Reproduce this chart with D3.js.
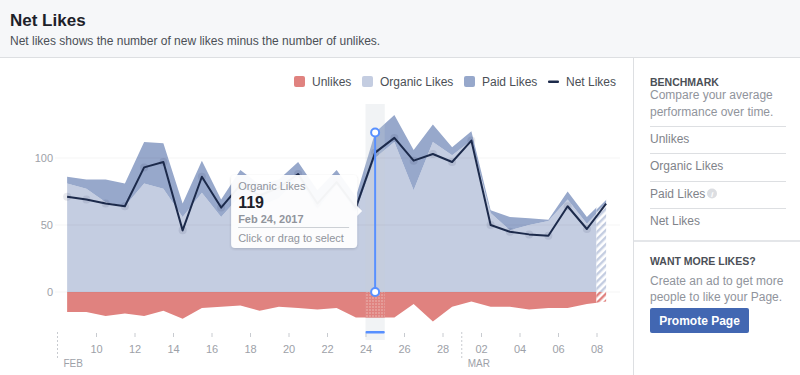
<!DOCTYPE html>
<html>
<head>
<meta charset="utf-8">
<script src="https://cdn.jsdelivr.net/npm/d3@7"></script>
<style>
  html, body { margin: 0; padding: 0; background: #fff; }
  svg { display: block; font-family: "Liberation Sans", Arial, Helvetica, sans-serif; }
</style>
</head>
<body>
<svg id="chart" width="800" height="375"></svg>
<script>
// ---------------- DATA ----------------
const dates = ["2017-02-08","2017-02-09","2017-02-10","2017-02-11","2017-02-12","2017-02-13","2017-02-14",
  "2017-02-15","2017-02-16","2017-02-17","2017-02-18","2017-02-19","2017-02-20","2017-02-21","2017-02-22",
  "2017-02-23","2017-02-24","2017-02-25","2017-02-26","2017-02-27","2017-02-28","2017-03-01","2017-03-02",
  "2017-03-03","2017-03-04","2017-03-05","2017-03-06","2017-03-07","2017-03-08"];
const organicLikes = [81,77,67,64,81,77,56,74,56,72,64,70,85,62,80,60,100,112,76,112,102,113,59,46,50,53,69,51,66];
const paidLikes    = [5,7,17,17,31,34,10,24,13,19,16,14,12,14,11,11,19,20,30,13,6,7,2,10,5,1,6,5,4];
const unlikes      = [15,15,18,16,18,14,20,12,11,10,14,11,12,13,12,19,19,19,9,22,11,7,11,11,13,12,12,9,7];
const netLikes     = [71,69,66,64,93,97,46,86,63,80,72,78,88,66,82,63,104,115,98,103,97,113,50,45,43,42,64,47,66];
const yTicks = [0, 50, 100];
const xTickDates = ["2017-02-10","2017-02-12","2017-02-14","2017-02-16","2017-02-18","2017-02-20","2017-02-22",
  "2017-02-24","2017-02-26","2017-02-28","2017-03-02","2017-03-04","2017-03-06","2017-03-08"];
const monthMarks = [{date: "2017-02-08", label: "FEB"}, {date: "2017-03-01", label: "MAR"}];
const legendItems = ["Unlikes", "Organic Likes", "Paid Likes", "Net Likes"];
const benchmarkItems = ["Unlikes", "Organic Likes", "Paid Likes", "Net Likes"];
const selectedDate = "2017-02-24";
const selectedValue = 119;
const partialStart = "2017-03-08";
const domainDates = ["2017-02-08", "2017-03-09"];

// ---------------- SETUP ----------------
const parse = d3.timeParse("%Y-%m-%d");
const colors = { unlikes: "#e0827f", organic: "#c4cde1", paid: "#97a8cb", net: "#1c2a4b", blue: "#5890ff" };
const data = dates.map((d, i) => ({
  date: d3.timeHour.offset(parse(d), 12),
  organic: organicLikes[i], paid: paidLikes[i], unlikes: unlikes[i], net: netLikes[i]
}));

const svg = d3.select("#chart");
const x = d3.scaleTime().domain(domainDates.map(parse)).range([57.5, 615.75]);
const y = d3.scaleLinear().domain([0, 100]).range([292, 158]);

const defs = svg.append("defs");
function hatch(id, color) {
  const p = defs.append("pattern").attr("id", id).attr("patternUnits", "userSpaceOnUse")
    .attr("width", 5).attr("height", 5).attr("patternTransform", "rotate(-45)");
  p.append("rect").attr("width", 5).attr("height", 5).attr("fill", "#fff");
  p.append("rect").attr("width", 5).attr("height", 2.4).attr("fill", color);
}
hatch("hOrg", colors.organic); hatch("hPaid", colors.paid); hatch("hUn", colors.unlikes);
const dots = defs.append("pattern").attr("id", "dots").attr("patternUnits", "userSpaceOnUse").attr("width", 3).attr("height", 3);
dots.append("rect").attr("width", 3).attr("height", 3).attr("fill", colors.unlikes);
dots.append("circle").attr("cx", 1).attr("cy", 1).attr("r", 0.7).attr("fill", "#f0c9c4");

const xPartial = x(parse(partialStart));
defs.append("clipPath").attr("id", "clipSolid").append("rect")
  .attr("x", 0).attr("y", 0).attr("width", xPartial).attr("height", 375);
defs.append("clipPath").attr("id", "clipHatch").append("rect")
  .attr("x", xPartial).attr("y", 0).attr("width", 100).attr("height", 375);
const selStart = parse(selectedDate), selEnd = d3.timeDay.offset(selStart, 1);
defs.append("clipPath").attr("id", "clipSel").append("rect")
  .attr("x", x(selStart)).attr("y", 0).attr("width", x(selEnd) - x(selStart)).attr("height", 375);
const shadow = defs.append("filter").attr("id", "shadow").attr("x", "-20%").attr("y", "-20%").attr("width", "140%").attr("height", "150%");
shadow.append("feDropShadow").attr("dx", 0).attr("dy", 1).attr("stdDeviation", 1.5).attr("flood-color", "#000").attr("flood-opacity", 0.16);

// ---------------- HEADER ----------------
svg.append("rect").attr("x", 0).attr("y", 0).attr("width", 800).attr("height", 58).attr("fill", "#f6f7f9");
svg.append("rect").attr("x", 0).attr("y", 57).attr("width", 800).attr("height", 1).attr("fill", "#dddfe2");
svg.append("text").attr("x", 10).attr("y", 26).attr("font-size", 17).attr("font-weight", "bold")
  .attr("fill", "#1d2129").text("Net Likes");
svg.append("text").attr("x", 10).attr("y", 45).attr("font-size", 12).attr("fill", "#4b4f56")
  .text("Net likes shows the number of new likes minus the number of unlikes.");

// ---------------- AREAS ----------------
const stack = d3.stack().keys(["organic", "paid"])(data);
const areaStack = d3.area().x(d => x(d.data.date)).y0(d => y(d[0])).y1(d => y(d[1]));
const areaUn = d3.area().x(d => x(d.date)).y0(y(0)).y1(d => y(-d.unlikes));

const plot = svg.append("g");
function drawAreas(clip, fills) {
  const g = plot.append("g").attr("clip-path", `url(#${clip})`);
  g.append("path").datum(stack[0]).attr("d", areaStack).attr("fill", fills[0]);
  g.append("path").datum(stack[1]).attr("d", areaStack).attr("fill", fills[1]);
  g.append("path").datum(data).attr("d", areaUn).attr("fill", fills[2]);
  return g;
}
drawAreas("clipSolid", [colors.organic, colors.paid, colors.unlikes]);
drawAreas("clipHatch", ["url(#hOrg)", "url(#hPaid)", "url(#hUn)"]);

// selected day band
plot.append("rect").attr("x", x(selStart)).attr("y", 104).attr("width", x(selEnd) - x(selStart)).attr("height", 236)
  .attr("fill", "#c9ced8").attr("opacity", 0.25);
plot.append("g").attr("clip-path", "url(#clipSel)").append("path").datum(data).attr("d", areaUn).attr("fill", "url(#dots)");

// gridlines
svg.append("g").selectAll("line").data(yTicks).join("line")
  .attr("x1", 55).attr("x2", 620).attr("y1", d => y(d)).attr("y2", d => y(d))
  .attr("stroke", "#000").attr("stroke-opacity", 0.045);

// y axis labels
const yAxis = svg.append("g").attr("transform", "translate(53,0)")
  .call(d3.axisLeft(y).tickValues(yTicks).tickSize(0).tickPadding(0));
yAxis.select(".domain").remove();
yAxis.selectAll("text").attr("font-size", 11).attr("fill", "#9da1a8").attr("font-family", "Liberation Sans, Arial, sans-serif");

// net line
const line = d3.line().x(d => x(d.date)).y(d => y(d.net));
plot.append("g").selectAll("circle").data(data.slice(0, -1)).join("circle")
  .attr("cx", d => x(d.date)).attr("cy", d => y(d.net)).attr("r", 4).attr("fill", colors.net).attr("opacity", 0.1);
plot.append("path").datum(data).attr("d", line).attr("fill", "none").attr("stroke", colors.net)
  .attr("stroke-width", 2).attr("stroke-linejoin", "round");

// ---------------- X AXIS ----------------
const xAxis = svg.append("g").attr("transform", "translate(0,333)")
  .call(d3.axisBottom(x).tickValues(xTickDates.map(parse)).tickFormat(d3.timeFormat("%d")).tickSize(4).tickPadding(8));
xAxis.select(".domain").remove();
xAxis.selectAll("line").attr("stroke", "#c8cbd0");
xAxis.selectAll("text").attr("font-size", 11).attr("fill", "#9da1a8").attr("font-family", "Liberation Sans, Arial, sans-serif");

const months = svg.append("g").selectAll("g").data(monthMarks).join("g")
  .attr("transform", d => `translate(${x(parse(d.date))},0)`);
months.append("line").attr("x1", 0).attr("x2", 0).attr("y1", 332).attr("y2", 359)
  .attr("stroke", "#c8cbd0").attr("stroke-dasharray", "2,2");
months.append("text").attr("x", 6).attr("y", 367).attr("font-size", 10).attr("fill", "#9da1a8").text(d => d.label);

// ---------------- SELECTION MARKER ----------------
const selX = x(d3.timeHour.offset(selStart, 12));
svg.append("rect").attr("x", x(selStart)).attr("y", 331).attr("width", x(selEnd) - x(selStart)).attr("height", 2.5)
  .attr("fill", colors.blue).attr("rx", 1);
svg.append("line").attr("x1", selX).attr("x2", selX).attr("y1", y(selectedValue)).attr("y2", y(0))
  .attr("stroke", colors.blue).attr("stroke-width", 2);
svg.append("g").selectAll("circle").data([selectedValue, 0]).join("circle")
  .attr("cx", selX).attr("cy", d => y(d)).attr("r", 4).attr("fill", "#fff")
  .attr("stroke", colors.blue).attr("stroke-width", 2);

// tooltip
const tip = svg.append("g").attr("transform", `translate(${selX - 144},175)`);
tip.append("rect").attr("width", 126).attr("height", 73).attr("rx", 4).attr("fill", "#fff")
  .attr("opacity", 0.95).attr("filter", "url(#shadow)");
tip.append("path").attr("d", "M126,31 L131,36 L126,41 Z").attr("fill", "#fff").attr("opacity", 0.95);
tip.append("text").attr("x", 7).attr("y", 15).attr("font-size", 11).attr("fill", "#90949c").text("Organic Likes");
tip.append("text").attr("x", 7).attr("y", 33).attr("font-size", 16).attr("font-weight", "bold").attr("fill", "#1d2129").text(String(selectedValue));
tip.append("text").attr("x", 7).attr("y", 48).attr("font-size", 11).attr("font-weight", "bold").attr("fill", "#90949c")
  .text(d3.timeFormat("%b %-d, %Y")(selStart));
tip.append("line").attr("x1", 7).attr("x2", 118).attr("y1", 52.5).attr("y2", 52.5).attr("stroke", "#ccd0d5");
tip.append("text").attr("x", 7).attr("y", 67).attr("font-size", 11).attr("fill", "#90949c").text("Click or drag to select");

// ---------------- LEGEND ----------------
const legendX = [294, 362, 464, 548];
const legendColors = [colors.unlikes, colors.organic, colors.paid, colors.net];
const lg = svg.append("g").selectAll("g").data(legendItems).join("g")
  .attr("transform", (d, i) => `translate(${legendX[i]},76)`);
lg.each(function(d, i) {
  const g = d3.select(this);
  if (i < 3) {
    g.append("rect").attr("width", 11).attr("height", 11).attr("rx", 2).attr("fill", legendColors[i]);
  } else {
    g.append("rect").attr("y", 4.5).attr("width", 11).attr("height", 2.5).attr("rx", 1).attr("fill", legendColors[i]);
  }
  g.append("text").attr("x", 18).attr("y", 10).attr("font-size", 12).attr("fill", "#4b4f56").text(d);
});

// ---------------- RIGHT PANEL ----------------
svg.append("rect").attr("x", 633).attr("y", 58).attr("width", 1).attr("height", 317).attr("fill", "#dddfe2");
svg.append("rect").attr("x", 634).attr("y", 240).attr("width", 166).attr("height", 2).attr("fill", "#e4e6e9");
svg.append("text").attr("x", 650).attr("y", 86).attr("font-size", 10.5).attr("font-weight", "bold").attr("fill", "#4b4f56").text("BENCHMARK");
svg.append("text").attr("x", 650).attr("y", 99).attr("font-size", 12).attr("fill", "#90949c").text("Compare your average");
svg.append("text").attr("x", 650).attr("y", 116).attr("font-size", 12).attr("fill", "#90949c").text("performance over time.");
const divY = [126, 153, 181, 208];
svg.append("g").selectAll("line").data(divY).join("line")
  .attr("x1", 650).attr("x2", 786).attr("y1", d => d + 0.5).attr("y2", d => d + 0.5).attr("stroke", "#dddfe2");
svg.append("g").selectAll("text").data(benchmarkItems).join("text")
  .attr("x", 650).attr("y", (d, i) => divY[i] + 17).attr("font-size", 12).attr("fill", "#7f838a").text(d => d);
svg.append("circle").attr("cx", 712).attr("cy", 193.5).attr("r", 5).attr("fill", "#dcdee2");
svg.append("text").attr("x", 712).attr("y", 197).attr("text-anchor", "middle").attr("font-size", 8)
  .attr("font-style", "italic").attr("font-weight", "bold").attr("fill", "#fff").text("i");

svg.append("text").attr("x", 650).attr("y", 265).attr("font-size", 10.5).attr("font-weight", "bold").attr("fill", "#4b4f56").text("WANT MORE LIKES?");
svg.append("text").attr("x", 650).attr("y", 285).attr("font-size", 12).attr("fill", "#90949c").text("Create an ad to get more");
svg.append("text").attr("x", 650).attr("y", 301).attr("font-size", 12).attr("fill", "#90949c").text("people to like your Page.");
svg.append("rect").attr("x", 650).attr("y", 308).attr("width", 99).attr("height", 25).attr("rx", 2).attr("fill", "#4267b2");
svg.append("text").attr("x", 699.5).attr("y", 325).attr("text-anchor", "middle").attr("font-size", 12)
  .attr("font-weight", "bold").attr("fill", "#fff").text("Promote Page");
</script>
</body>
</html>
